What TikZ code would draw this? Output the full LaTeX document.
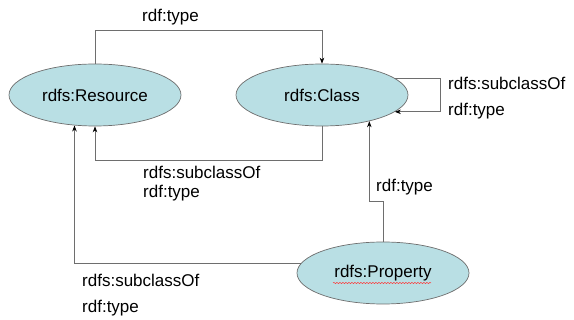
\documentclass[tikz,border=0pt]{standalone}
\usepackage{fontspec}
\setmainfont{Liberation Sans}
\usetikzlibrary{arrows.meta,shapes.geometric,decorations.pathmorphing}
\definecolor{cellfill}{HTML}{B9DFE4}
\definecolor{edgegray}{HTML}{6E6E6E}

\begin{document}
\begin{tikzpicture}[x=1pt,y=-1pt,
  every node/.style={font=\fontsize{17}{20}\selectfont},
  concept/.style={ellipse,draw=edgegray,fill=cellfill,line width=0.7pt,
    minimum width=172pt,minimum height=62pt,inner sep=0pt},
  lbl/.style={anchor=west,inner sep=0pt},
  >={Stealth[black,length=6pt,width=4.5pt]}]
\useasboundingbox (0,0) rectangle (574,320);

\node [concept] (res) at (95,95) {rdfs:Resource};
\node [concept] (cls) at (322,95) {rdfs:Class};
\node [concept] (prop) at (383,273) {rdfs:Property};
% spell-check underline
\draw [red!80, line width=0.5pt, decorate,
  decoration={snake,amplitude=0.6pt,segment length=3pt}]
  (prop.center) ++(-50,10) -- ++(98,0);

\begin{scope}[every path/.style={draw=edgegray,line width=0.7pt}]
\draw [->] (res.north) -- ++(0,-33) -| (cls.north);
\draw [->] (cls.south) -- ++(0,34) -| (res.south);
\draw [->] (cls.13) -- ++(45,0) |- (cls.-13);
\draw [->] (prop.north) -- ++(0,-40) -| (cls.-29);
\draw [->] (prop.173) -| (res.-124);
\end{scope}

\node [lbl] (t1) at (142,17) {rdf:type};
\node [lbl] (s2) at (143,172) {rdfs:subclassOf};
\node [lbl] (t2) at (143,193) {rdf:type};
\node [lbl] (s3) at (448,83) {rdfs:subclassOf};
\node [lbl] (t3) at (448,111) {rdf:type};
\node [lbl] (t4) at (376,187) {rdf:type};
\node [lbl] (s5) at (82,280) {rdfs:subclassOf};
\node [lbl] (t5) at (82,308) {rdf:type};
\end{tikzpicture}
\end{document}
